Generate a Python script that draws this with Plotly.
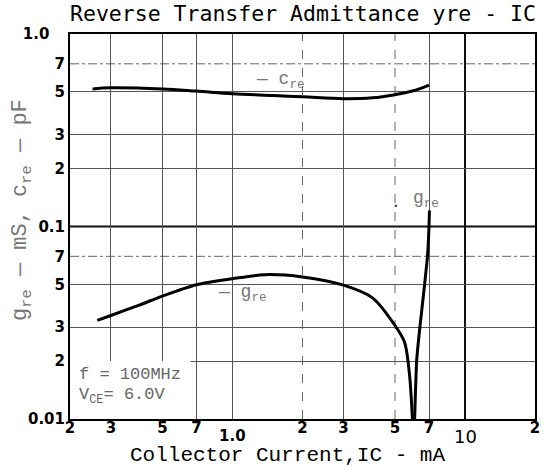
import math
import plotly.graph_objects as go

# ---------------- data ----------------
cre_x = [0.25, 0.3, 0.5, 0.7, 1.0, 1.5, 2.0, 3.0, 4.0, 5.0, 6.0, 7.0]
cre_y = [0.518, 0.525, 0.518, 0.505, 0.49, 0.479, 0.472, 0.461, 0.466, 0.484, 0.507, 0.543]

gre_neg_x = [0.262, 0.3, 0.4, 0.5, 0.7, 1.0, 1.37, 2.0, 3.0, 4.0, 5.0, 5.5, 5.78, 6.02]
gre_neg_y = [0.0325, 0.0345, 0.0392, 0.0435, 0.0498, 0.0535, 0.0562, 0.0547, 0.0496, 0.0426, 0.0306, 0.025, 0.0167, 0.007]

gre_pos_x = [6.02, 6.2, 6.4, 6.7, 6.9, 7.0, 7.03]
gre_pos_y = [0.007, 0.0204, 0.0302, 0.0498, 0.0707, 0.1, 0.121]

x_tickvals = [0.2, 0.3, 0.5, 0.7, 1.0, 2, 3, 5, 7, 10, 20]
x_ticktext = ["2", "3", "5", "7", "", "2", "3", "5", "7", "", "2"]
x_low_vals = [1.0, 10]
x_low_text = ["1.0", "10"]
y_tickvals = [0.01, 0.02, 0.03, 0.05, 0.07, 0.1, 0.2, 0.3, 0.5, 0.7, 1.0]
y_ticktext = ["0.01", "2", "3", "5", "7", "0.1", "2", "3", "5", "7", "1.0\u00a0\u00a0\u00a0"]

x_grid_solid = [0.3, 0.5, 0.7, 1.0, 3, 7]
x_grid_dash = [2, 5]
y_grid_solid = [0.02, 0.03, 0.05, 0.2, 0.3, 0.5]
y_grid_dash = [0.07, 0.7]
x_grid_thick = [10]
y_grid_thick = [0.1]

title_text = "Reverse Transfer Admittance yre - IC"
x_title = "Collector Current,IC - mA"
y_title = "g<sub>re</sub> — mS, c<sub>re</sub> — pF"

fig = go.Figure()
fig.add_trace(go.Scatter(x=cre_x, y=cre_y, mode="lines", line=dict(color="black", width=3, shape="spline"), showlegend=False))
fig.add_trace(go.Scatter(x=gre_neg_x, y=gre_neg_y, mode="lines", line=dict(color="black", width=3, shape="spline", smoothing=0.8), showlegend=False))
fig.add_trace(go.Scatter(x=gre_pos_x, y=gre_pos_y, mode="lines", line=dict(color="black", width=3, shape="spline", smoothing=0.5), showlegend=False))

shapes = []
for v in x_grid_dash:
    shapes.append(dict(type="line", xref="x", yref="paper", x0=v, x1=v, y0=0, y1=1, layer="between",
                       line=dict(color="#666", width=1, dash="dash")))
for v in y_grid_dash:
    shapes.append(dict(type="line", xref="paper", yref="y", x0=0, x1=1, y0=v, y1=v, layer="between",
                       line=dict(color="#666", width=1, dash="dashdot")))
for v in x_grid_thick:
    shapes.append(dict(type="line", xref="x", yref="paper", x0=v, x1=v, y0=0, y1=1, layer="between",
                       line=dict(color="#111", width=2)))
for v in y_grid_thick:
    shapes.append(dict(type="line", xref="paper", yref="y", x0=0, x1=1, y0=v, y1=v, layer="between",
                       line=dict(color="#111", width=2)))
# white box behind the conditions text
shapes.append(dict(type="rect", xref="x", yref="y", x0=0.2, x1=0.66, y0=0.01, y1=0.02, layer="between",
                   fillcolor="white", line=dict(width=0)))

mono = "Liberation Mono"
tickfont = dict(family="DejaVu Sans", size=15, color="black", weight="bold")
ann = [
    dict(text=title_text, xref="paper", yref="paper", x=(305 - 70) / 470, y=1.0, yshift=21, showarrow=False,
         font=dict(family="DejaVu Sans Mono", size=21.5, color="black"), xanchor="center", yanchor="middle"),
    dict(text=x_title, xref="paper", yref="paper", x=(290 - 70) / 470, y=0, yshift=-36, showarrow=False,
         font=dict(family=mono, size=21, color="black"), xanchor="center", yanchor="middle"),
    dict(text=y_title, xref="paper", yref="paper", x=0, xshift=-48, y=(419 - 210) / 385, showarrow=False, textangle=-90,
         font=dict(family=mono, size=22, color="#777"), xanchor="center", yanchor="middle"),
    dict(text="— c<sub>re</sub>", xref="paper", yref="paper", x=(283 - 70) / 470, y=(419 - 80) / 385,
         showarrow=False, font=dict(family=mono, size=18, color="#777"), xanchor="center", yanchor="middle"),
    dict(text="— g<sub>re</sub>", xref="paper", yref="paper", x=(244 - 70) / 470, y=(419 - 293) / 385,
         showarrow=False, font=dict(family=mono, size=18, color="#777"), xanchor="center", yanchor="middle"),
    dict(text="g<sub>re</sub>", xref="paper", yref="paper", x=(430 - 70) / 470, y=(419 - 199) / 385,
         showarrow=False, font=dict(family=mono, size=18, color="#777"), xanchor="center", yanchor="middle"),
    dict(text=".", xref="paper", yref="paper", x=(399 - 70) / 470, y=(419 - 203) / 385,
         showarrow=False, font=dict(family=mono, size=16, color="#333"), xanchor="center", yanchor="middle"),
    dict(text="f = 100MHz", xref="paper", yref="paper", x=(77 - 70) / 470, y=(419 - 374) / 385,
         showarrow=False, font=dict(family=mono, size=17, color="#666"), xanchor="left", yanchor="middle"),
    dict(text="V<sub>CE</sub>= 6.0V", xref="paper", yref="paper", x=(77 - 70) / 470, y=(419 - 396) / 385,
         showarrow=False, font=dict(family=mono, size=17, color="#666"), xanchor="left", yanchor="middle"),
]
low_fonts = [dict(family="DejaVu Sans", size=15, color="black", weight="bold"),
             dict(family="DejaVu Sans", size=18, color="black")]
for xv, txt, fnt in zip(x_low_vals, x_low_text, low_fonts):
    # log axis: annotation x is given in log10 units
    ann.append(dict(text=txt, xref="x", yref="paper", x=math.log10(xv), y=0, yshift=-17, showarrow=False,
                    font=fnt, xanchor="center", yanchor="middle"))

fig.update_layout(
    width=547, height=470,
    margin=dict(l=70, r=7, t=34, b=51),
    paper_bgcolor="white", plot_bgcolor="white",
    shapes=shapes, annotations=ann,
    xaxis=dict(type="log", range=[-0.69897, 1.30103], tickmode="array", tickvals=x_tickvals, ticktext=x_ticktext,
               showgrid=False, zeroline=False, showline=True, linecolor="black", linewidth=2, mirror=True,
               ticks="", tickfont=tickfont, ticklabelstandoff=-6,
               minor=dict(tickmode="array", tickvals=x_grid_solid, showgrid=True, gridcolor="#555", gridwidth=1, ticks="")),
    yaxis=dict(type="log", range=[-2, 0], tickmode="array", tickvals=y_tickvals, ticktext=y_ticktext,
               showgrid=False, zeroline=False, showline=True, linecolor="black", linewidth=2, mirror=True,
               ticks="", tickfont=tickfont,
               minor=dict(tickmode="array", tickvals=y_grid_solid, showgrid=True, gridcolor="#555", gridwidth=1, ticks="")),
)

fig.write_html("out.html", config={"displayModeBar": False},
               post_script="document.body.style.margin='0';document.body.style.overflow='hidden';")
